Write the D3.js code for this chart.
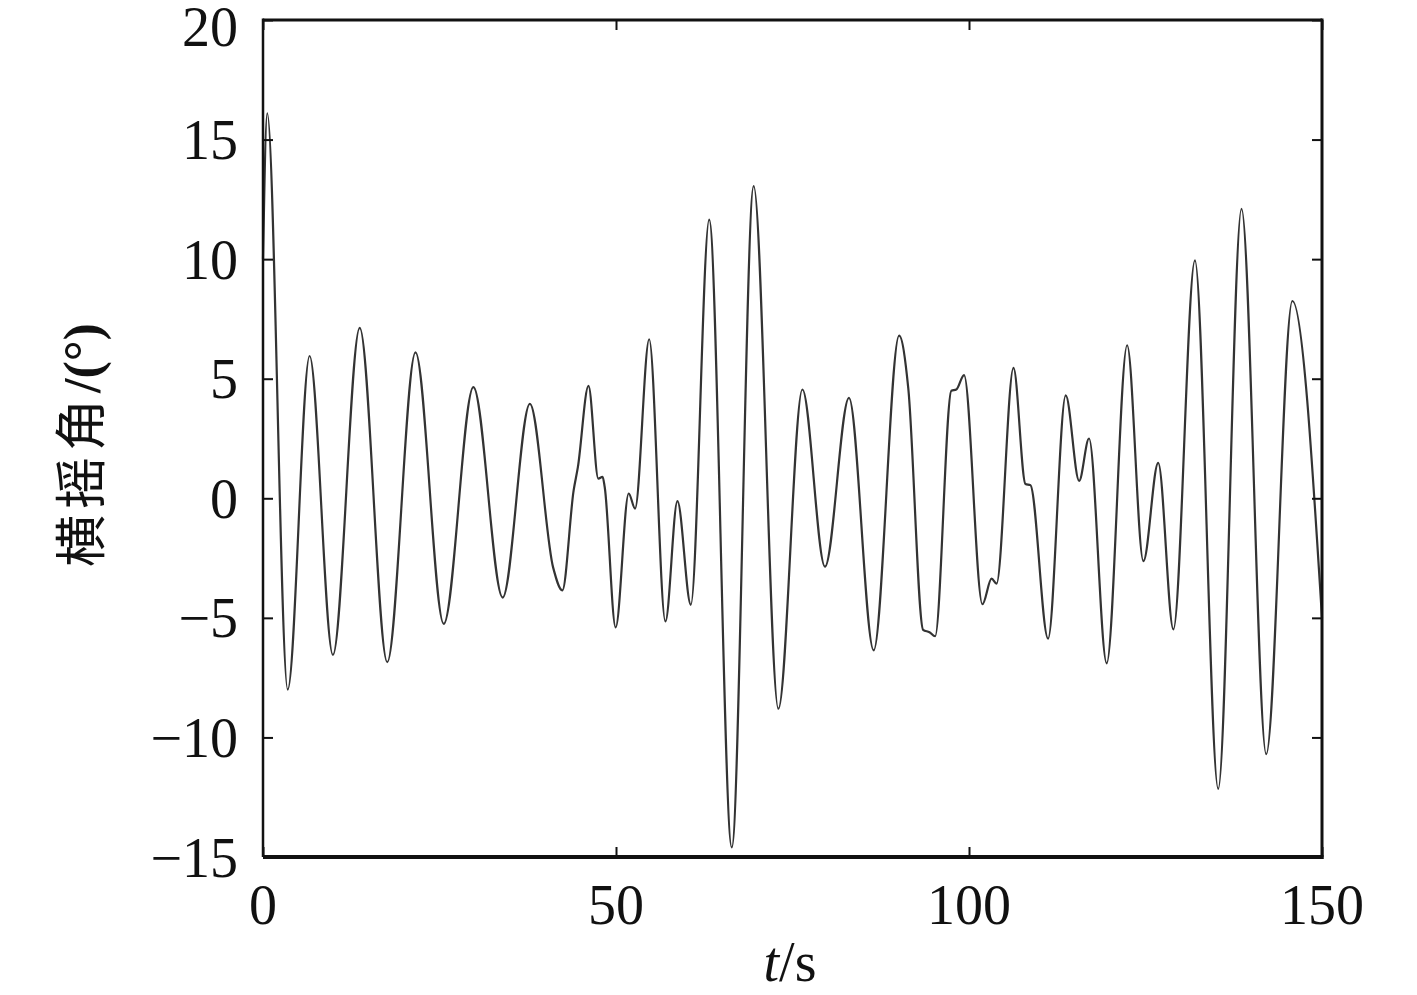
<!DOCTYPE html>
<html>
<head>
<meta charset="utf-8">
<script src="https://cdn.jsdelivr.net/npm/d3@7"></script>
<style>
  html, body { margin: 0; padding: 0; background: #fff; }
  svg { display: block; }
</style>
</head>
<body>
<svg id="chart" width="1417" height="995"></svg>
<script>
// ---- data ----
const times = [0, 0.6, 3.5, 6.6, 9.9, 13.7, 17.6, 21.6, 25.6, 29.8, 33.95, 37.8, 41.1, 42.4, 44.0, 44.6, 46.1, 47.5, 48.1, 48.4,
  49.95, 51.8, 52.7, 54.7, 57.0, 58.7, 60.6, 63.2, 66.4, 69.5, 73.0, 76.4, 79.6, 83.0, 86.5, 90.1, 91.4, 93.5, 94.4, 95.2,
  97.5, 98.2, 99.3, 101.9, 103.2, 103.9, 106.3, 108.0, 108.7, 111.2, 113.7, 115.6, 117.0, 119.5, 122.4, 124.7, 126.8, 128.95,
  132.0, 135.3, 138.6, 142.1, 145.8, 150];
const rollValues = [10, 16.1, -8.0, 5.95, -6.55, 7.13, -6.85, 6.1, -5.25, 4.65, -4.15, 3.95, -2.9, -3.85, 0.33, 1.3, 4.7, 0.82, 0.9, 0.47,
  -5.4, 0.2, -0.43, 6.65, -5.15, -0.12, -4.45, 11.65, -14.6, 13.05, -8.8, 4.55, -2.86, 4.2, -6.36, 6.8, 4.6, -5.5, -5.6, -5.77,
  4.5, 4.55, 5.15, -4.43, -3.36, -3.57, 5.45, 0.6, 0.55, -5.87, 4.3, 0.73, 2.5, -6.9, 6.4, -2.63, 1.48, -5.48,
  9.95, -12.15, 12.1, -10.7, 8.25, -5.0];
const xTicks = [0, 50, 100, 150];
const yTicks = [-15, -10, -5, 0, 5, 10, 15, 20];
const xDomain = [0, 150];
const yDomain = [-15, 20];

// ---- layout ----
const svg = d3.select("#chart");
const L = 263, R = 1322, T = 20, B = 857;
const x = d3.scaleLinear().domain(xDomain).range([L, R]);
const y = d3.scaleLinear().domain(yDomain).range([B, T]);
const serif = "'Liberation Serif','Times New Roman',serif";
const fs = 56;
const tickLen = 10;

const data = times.map((t, i) => ({ t, v: rollValues[i] }));

// curve
svg.append("path")
  .datum(data)
  .attr("fill", "none")
  .attr("stroke", "#333")
  .attr("stroke-width", 2.2)
  .attr("stroke-linejoin", "round")
  .attr("d", d3.line().x(d => x(d.t)).y(d => y(d.v)).curve(d3.curveMonotoneX));

// axes with inward ticks
const fmt = d => d < 0 ? "\u2212" + Math.abs(d) : String(d);

const gL = svg.append("g").attr("transform", `translate(${L},0)`)
  .call(d3.axisRight(y).tickValues(yTicks).tickSize(tickLen).tickFormat(""));
const gR = svg.append("g").attr("transform", `translate(${R},0)`)
  .call(d3.axisLeft(y).tickValues(yTicks).tickSize(tickLen).tickFormat(""));
const gB = svg.append("g").attr("transform", `translate(0,${B})`)
  .call(d3.axisTop(x).tickValues(xTicks).tickSize(tickLen).tickFormat(""));
const gT = svg.append("g").attr("transform", `translate(0,${T})`)
  .call(d3.axisBottom(x).tickValues(xTicks).tickSize(tickLen).tickFormat(""));
[gL, gR, gB, gT].forEach(g => {
  g.select(".domain").remove();
  g.selectAll(".tick line").attr("stroke", "#111").attr("stroke-width", 2);
});

// frame
svg.append("line").attr("x1", L).attr("x2", R).attr("y1", T).attr("y2", T).attr("stroke", "#111").attr("stroke-width", 3);
svg.append("line").attr("x1", L).attr("x2", R + 1.5).attr("y1", B).attr("y2", B).attr("stroke", "#111").attr("stroke-width", 4);
svg.append("line").attr("x1", L).attr("x2", L).attr("y1", T - 1.5).attr("y2", B).attr("stroke", "#111").attr("stroke-width", 2.5);
svg.append("line").attr("x1", R).attr("x2", R).attr("y1", T - 1.5).attr("y2", B + 2).attr("stroke", "#111").attr("stroke-width", 3);

// tick labels
svg.append("g").selectAll("text").data(yTicks).join("text")
  .attr("x", 238).attr("y", d => y(d) + (d === 20 ? 6 : 0)).attr("dy", "0.35em")
  .attr("text-anchor", "end")
  .attr("font-family", serif).attr("font-size", fs).attr("fill", "#111")
  .text(fmt);
svg.append("g").selectAll("text").data(xTicks).join("text")
  .attr("x", d => x(d)).attr("y", 924)
  .attr("text-anchor", "middle")
  .attr("font-family", serif).attr("font-size", fs).attr("fill", "#111")
  .text(fmt);

// axis titles
const xt = svg.append("text").attr("x", 790).attr("y", 981).attr("text-anchor", "middle")
  .attr("font-family", serif).attr("font-size", fs).attr("fill", "#111");
xt.append("tspan").attr("font-style", "italic").text("t");
xt.append("tspan").text("/s");

const yt = svg.append("text").attr("transform", "translate(100,445) rotate(-90)").attr("text-anchor", "middle")
  .attr("fill", "#111");
yt.append("tspan").attr("font-family", "'Noto Sans CJK SC','Noto Sans CJK JP',sans-serif").attr("font-size", 52).attr("letter-spacing", 6).text("横摇角");
yt.append("tspan").attr("font-family", serif).attr("font-size", 52).attr("font-weight", "bold").text("/(°)");
</script>
</body>
</html>
